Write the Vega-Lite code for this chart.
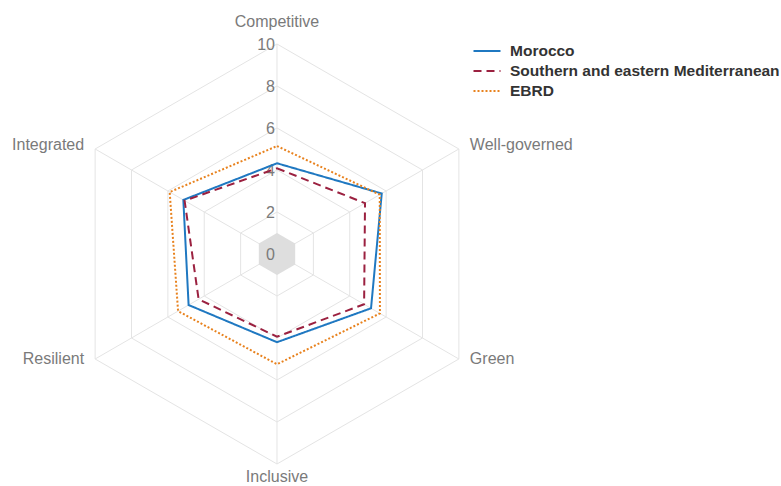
{
  "$schema": "https://vega.github.io/schema/vega-lite/v6.json",
  "width": 781,
  "height": 486,
  "autosize": "none",
  "padding": 0,
  "background": "white",
  "config": {"view": {"stroke": null}, "font": "Liberation Sans"},
  "datasets": {
    "scores": [
      {"axis": "Competitive", "k": 0, "series": "Morocco", "value": 4.32},
      {"axis": "Well-governed", "k": 1, "series": "Morocco", "value": 5.76},
      {"axis": "Green", "k": 2, "series": "Morocco", "value": 5.17},
      {"axis": "Inclusive", "k": 3, "series": "Morocco", "value": 4.2},
      {"axis": "Resilient", "k": 4, "series": "Morocco", "value": 4.86},
      {"axis": "Integrated", "k": 5, "series": "Morocco", "value": 5.15},
      {"axis": "Competitive", "k": 0, "series": "Southern and eastern Mediterranean", "value": 4.08},
      {"axis": "Well-governed", "k": 1, "series": "Southern and eastern Mediterranean", "value": 4.84},
      {"axis": "Green", "k": 2, "series": "Southern and eastern Mediterranean", "value": 4.79},
      {"axis": "Inclusive", "k": 3, "series": "Southern and eastern Mediterranean", "value": 3.94},
      {"axis": "Resilient", "k": 4, "series": "Southern and eastern Mediterranean", "value": 4.31},
      {"axis": "Integrated", "k": 5, "series": "Southern and eastern Mediterranean", "value": 5.08},
      {"axis": "Competitive", "k": 0, "series": "EBRD", "value": 5.14},
      {"axis": "Well-governed", "k": 1, "series": "EBRD", "value": 5.65},
      {"axis": "Green", "k": 2, "series": "EBRD", "value": 5.66},
      {"axis": "Inclusive", "k": 3, "series": "EBRD", "value": 5.25},
      {"axis": "Resilient", "k": 4, "series": "EBRD", "value": 5.44},
      {"axis": "Integrated", "k": 5, "series": "EBRD", "value": 5.9}
    ],
    "axes": [
      {"axis": "Competitive", "k": 0},
      {"axis": "Well-governed", "k": 1},
      {"axis": "Green", "k": 2},
      {"axis": "Inclusive", "k": 3},
      {"axis": "Resilient", "k": 4},
      {"axis": "Integrated", "k": 5}
    ],
    "grid": [
      {"level": 2, "k": 0}, {"level": 2, "k": 1}, {"level": 2, "k": 2}, {"level": 2, "k": 3}, {"level": 2, "k": 4}, {"level": 2, "k": 5},
      {"level": 4, "k": 0}, {"level": 4, "k": 1}, {"level": 4, "k": 2}, {"level": 4, "k": 3}, {"level": 4, "k": 4}, {"level": 4, "k": 5},
      {"level": 6, "k": 0}, {"level": 6, "k": 1}, {"level": 6, "k": 2}, {"level": 6, "k": 3}, {"level": 6, "k": 4}, {"level": 6, "k": 5},
      {"level": 8, "k": 0}, {"level": 8, "k": 1}, {"level": 8, "k": 2}, {"level": 8, "k": 3}, {"level": 8, "k": 4}, {"level": 8, "k": 5},
      {"level": 10, "k": 0}, {"level": 10, "k": 1}, {"level": 10, "k": 2}, {"level": 10, "k": 3}, {"level": 10, "k": 4}, {"level": 10, "k": 5}
    ],
    "ticks": [{"v": 0}, {"v": 2}, {"v": 4}, {"v": 6}, {"v": 8}, {"v": 10}],
    "hub": [{"v": 0}]
  },
  "encoding": {
    "x": {"field": "x", "type": "quantitative", "scale": {"domain": [-13.19, 24.0], "zero": false, "nice": false}, "axis": null},
    "y": {"field": "y", "type": "quantitative", "scale": {"domain": [-11.048, 12.095], "zero": false, "nice": false}, "axis": null}
  },
  "layer": [
    {
      "data": {"name": "grid"},
      "transform": [
        {"calculate": "datum.k * PI / 3", "as": "a"},
        {"calculate": "datum.level * sin(datum.a)", "as": "x"},
        {"calculate": "datum.level * cos(datum.a)", "as": "y"}
      ],
      "mark": {"type": "line", "interpolate": "linear-closed", "color": "#e4e4e4", "strokeWidth": 1},
      "encoding": {"detail": {"field": "level"}, "order": {"field": "k", "type": "quantitative"}}
    },
    {
      "data": {"name": "axes"},
      "transform": [
        {"calculate": "datum.k * PI / 3", "as": "a"},
        {"calculate": "10 * sin(datum.a)", "as": "x"},
        {"calculate": "10 * cos(datum.a)", "as": "y"}
      ],
      "mark": {"type": "rule", "color": "#e4e4e4", "strokeWidth": 1},
      "encoding": {"x2": {"datum": 0}, "y2": {"datum": 0}}
    },
    {
      "data": {"name": "hub"},
      "transform": [
        {"calculate": "datum.v", "as": "x"},
        {"calculate": "datum.v", "as": "y"}
      ],
      "mark": {"type": "point", "shape": "M0,-1L0.866,-0.5L0.866,0.5L0,1L-0.866,0.5L-0.866,-0.5Z", "size": 1764, "filled": true, "color": "#dedede", "opacity": 1, "strokeWidth": 0}
    },
    {
      "data": {"name": "ticks"},
      "transform": [
        {"calculate": "0", "as": "x"},
        {"calculate": "datum.v", "as": "y"}
      ],
      "mark": {"type": "text", "align": "right", "baseline": "middle", "dx": -2, "dy": 1, "fontSize": 16, "color": "#7a7a7a"},
      "encoding": {"text": {"field": "v", "type": "nominal"}}
    },
    {
      "data": {"name": "scores"},
      "transform": [
        {"calculate": "datum.k * PI / 3", "as": "a"},
        {"calculate": "datum.value * sin(datum.a)", "as": "x"},
        {"calculate": "datum.value * cos(datum.a)", "as": "y"}
      ],
      "mark": {"type": "line", "interpolate": "linear-closed", "strokeWidth": 2},
      "encoding": {
        "color": {
          "field": "series", "type": "nominal",
          "scale": {"domain": ["Morocco", "Southern and eastern Mediterranean", "EBRD"], "range": ["#1f78c1", "#9b2140", "#e8821e"]},
          "legend": {
            "title": null, "orient": "none", "legendX": 476, "legendY": 40,
            "symbolType": "M-1.35,0H1.35", "symbolSize": 400, "symbolStrokeWidth": 2,
            "labelFontSize": 15.5, "labelFontWeight": "bold", "labelColor": "#333333", "labelFont": "Liberation Sans",
            "labelLimit": 400, "rowPadding": 0, "padding": 0, "labelOffset": 12
          }
        },
        "strokeDash": {
          "field": "series", "type": "nominal",
          "scale": {"domain": ["Morocco", "Southern and eastern Mediterranean", "EBRD"], "range": [[1, 0], [8, 5], [2, 2]]},
          "legend": null
        },
        "detail": {"field": "series"},
        "order": {"field": "k", "type": "quantitative"}
      }
    },
    {
      "data": {"name": "axes"},
      "transform": [
        {"filter": "datum.k == 0"},
        {"calculate": "0", "as": "x"},
        {"calculate": "11.05", "as": "y"}
      ],
      "mark": {"type": "text", "align": "center", "baseline": "middle", "fontSize": 16, "color": "#7a7a7a"},
      "encoding": {"text": {"field": "axis"}}
    },
    {
      "data": {"name": "axes"},
      "transform": [
        {"filter": "datum.k == 3"},
        {"calculate": "0", "as": "x"},
        {"calculate": "-10.62", "as": "y"}
      ],
      "mark": {"type": "text", "align": "center", "baseline": "middle", "fontSize": 16, "color": "#7a7a7a"},
      "encoding": {"text": {"field": "axis"}}
    },
    {
      "data": {"name": "axes"},
      "transform": [
        {"filter": "datum.k == 1 || datum.k == 5"},
        {"calculate": "datum.k * PI / 3", "as": "a"},
        {"calculate": "10 * sin(datum.a)", "as": "x"},
        {"calculate": "10 * cos(datum.a)", "as": "y"}
      ],
      "layer": [
        {"transform": [{"filter": "datum.k == 1"}], "mark": {"type": "text", "align": "left", "baseline": "middle", "dx": 11, "dy": -4, "fontSize": 16, "color": "#7a7a7a"}, "encoding": {"text": {"field": "axis"}}},
        {"transform": [{"filter": "datum.k == 5"}], "mark": {"type": "text", "align": "right", "baseline": "middle", "dx": -11, "dy": -4, "fontSize": 16, "color": "#7a7a7a"}, "encoding": {"text": {"field": "axis"}}}
      ]
    },
    {
      "data": {"name": "axes"},
      "transform": [
        {"filter": "datum.k == 2 || datum.k == 4"},
        {"calculate": "datum.k * PI / 3", "as": "a"},
        {"calculate": "10 * sin(datum.a)", "as": "x"},
        {"calculate": "10 * cos(datum.a)", "as": "y"}
      ],
      "layer": [
        {"transform": [{"filter": "datum.k == 2"}], "mark": {"type": "text", "align": "left", "baseline": "middle", "dx": 11, "dy": 0, "fontSize": 16, "color": "#7a7a7a"}, "encoding": {"text": {"field": "axis"}}},
        {"transform": [{"filter": "datum.k == 4"}], "mark": {"type": "text", "align": "right", "baseline": "middle", "dx": -11, "dy": 0, "fontSize": 16, "color": "#7a7a7a"}, "encoding": {"text": {"field": "axis"}}}
      ]
    }
  ]
}
